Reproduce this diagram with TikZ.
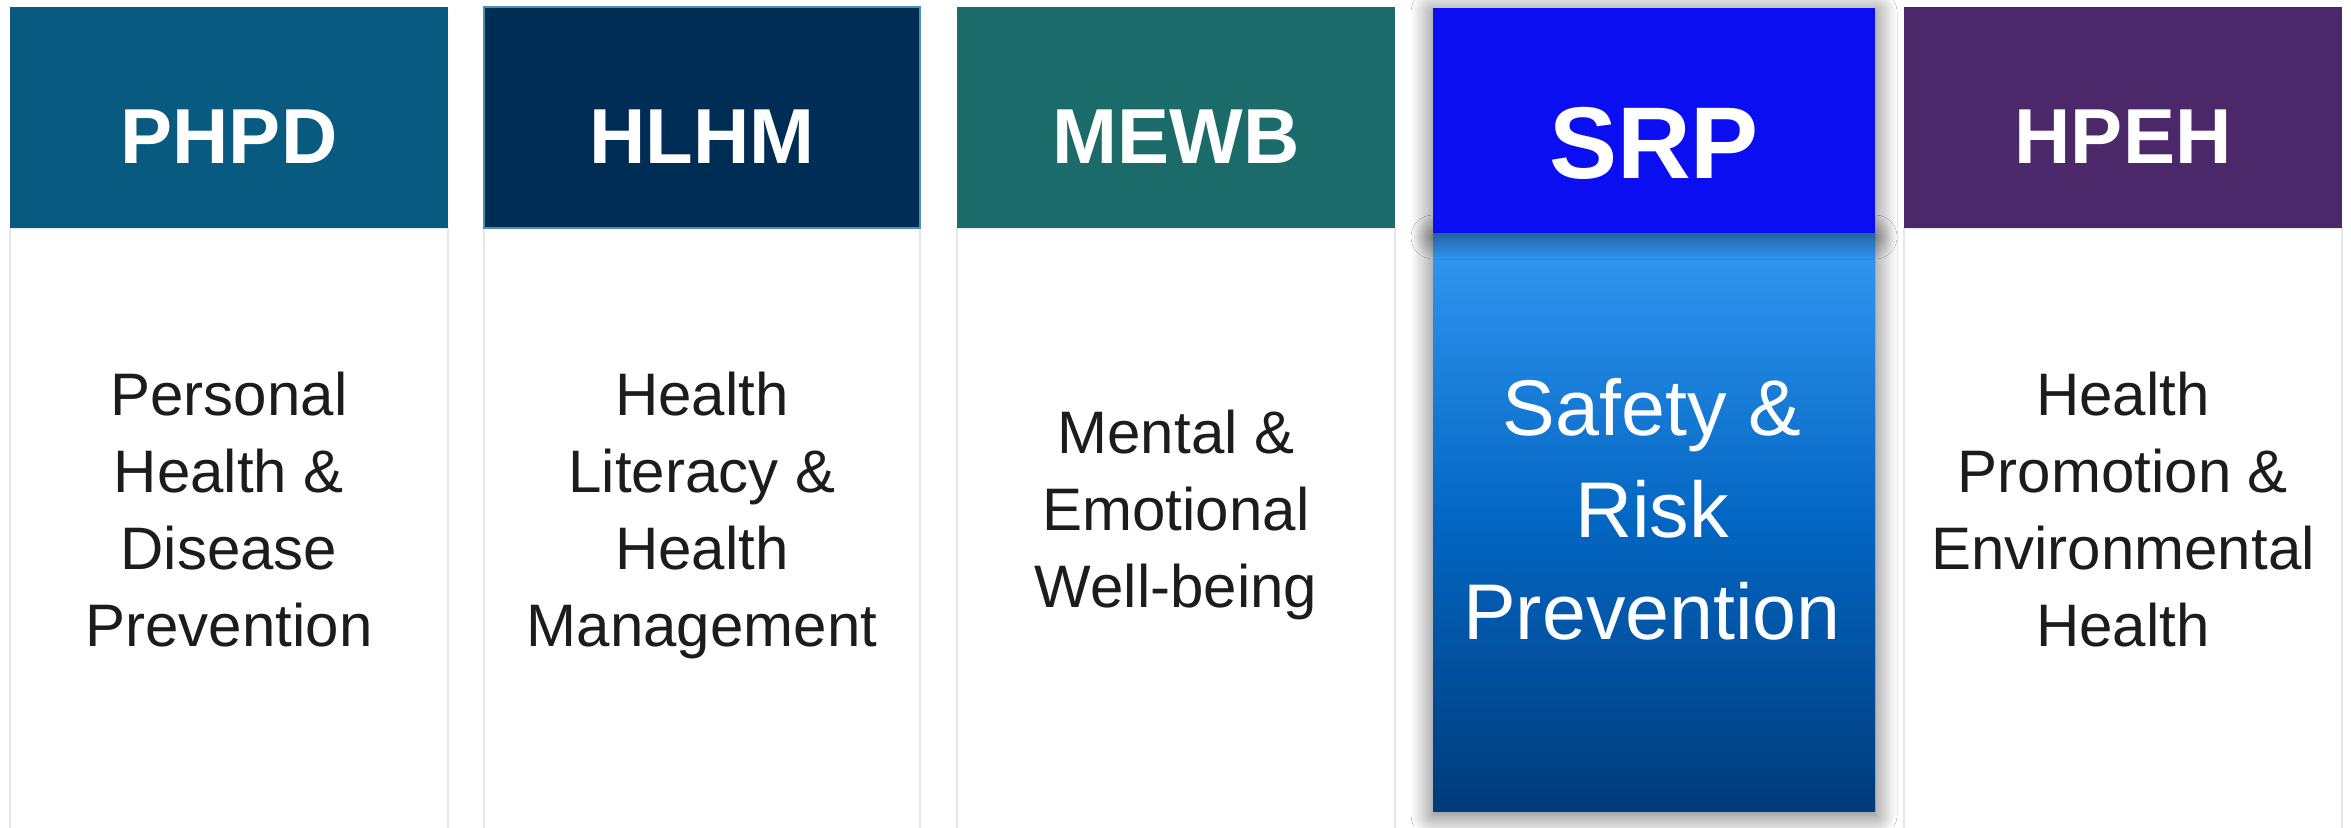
\documentclass[tikz,border=0pt]{standalone}
\usepackage{fontspec}
\setmainfont{Liberation Sans}
\usetikzlibrary{shadows.blur}
\definecolor{cPHPD}{HTML}{085A80}
\definecolor{cHLHM}{HTML}{002D55}
\definecolor{cHLHMedge}{HTML}{4D8FAE}
\definecolor{cMEWB}{HTML}{1B6B6B}
\definecolor{cHPEH}{HTML}{4B2869}
\definecolor{cSRP}{HTML}{0A0EF0}
\definecolor{bordergray}{HTML}{E3E7EE}
\definecolor{bodytext}{HTML}{1C1C1C}
\definecolor{srpTop}{HTML}{3399F3}
\definecolor{srpMid}{HTML}{0366C2}
\definecolor{srpBot}{HTML}{003B7A}
\tikzset{
  hdr/.style={rectangle, inner sep=0pt, outer sep=0pt, minimum width=219pt, minimum height=110.5pt, anchor=north west},
  bodybox/.style={rectangle, inner sep=0pt, outer sep=0pt, draw=bordergray, line width=1.2pt, fill=white, minimum width=219pt, minimum height=336pt, anchor=north west},
  hlab/.style={text=white, inner sep=0pt, font=\bfseries\fontsize{39}{39}\selectfont, anchor=base},
  blab/.style={text=bodytext, inner sep=0pt, align=center, font=\fontsize{30}{38.5}\selectfont, anchor=base},
  srpshadow/.style={blur shadow={shadow xshift=0pt, shadow yshift=-2pt, shadow blur radius=11pt, shadow blur steps=20, shadow opacity=60}}
}
\begin{document}
\begin{tikzpicture}[x=0.5pt,y=-0.5pt]
\useasboundingbox (0,0) rectangle (2351,827);
\fill[white] (0,0) rectangle (2351,827);
\clip (0,0) rectangle (2351,827);

% bodies
\node[bodybox] (b1) at (10,228) {};
\node[bodybox, minimum width=218pt] (b2) at (484,228) {};
\node[bodybox] (b3) at (957,228) {};
\node[bodybox] (b5) at (1904,228) {};

% headers
\node[hdr, fill=cPHPD] (h1) at (10,7) {};
\node[hdr, fill=cHLHM, draw=cHLHMedge, line width=0.6pt, minimum width=218pt] (h2) at (484,7) {};
\node[hdr, fill=cMEWB] (h3) at (957,7) {};
\node[hdr, fill=cHPEH] (h5) at (1904,7) {};

% SRP highlighted column
\node[rectangle, inner sep=0pt, outer sep=0pt, anchor=north west, minimum width=221pt, minimum height=289pt,
      top color=srpTop, bottom color=srpBot, middle color=srpMid, srpshadow] (b4) at (1433,233) {};
\node[hdr, fill=cSRP, minimum width=221pt, minimum height=112.5pt, srpshadow] (h4) at (1433,8) {};

% header labels
\node[hlab] (t1) at (229,163) {PHPD};
\node[hlab] (t2) at (702,163) {HLHM};
\node[hlab] (t3) at (1176,163) {MEWB};
\node[hlab, font=\bfseries\fontsize{51}{51}\selectfont] (t4) at (1654,178) {SRP};
\node[hlab] (t5) at (2123,163) {HPEH};

% body labels (anchor = baseline of the last line)
\node[blab] (l1) at (229,646) {Personal\\Health \&\\Disease\\Prevention};
\node[blab] (l2) at (702,646) {Health\\Literacy \&\\Health\\Management};
\node[blab] (l3) at (1176,607) {Mental \&\\Emotional\\Well-being};
\node[blab, text=white, font=\fontsize{39.5}{51}\selectfont] (l4) at (1652,639) {Safety \&\\Risk\\Prevention};
\node[blab] (l5) at (2123,646) {Health\\Promotion \&\\Environmental\\Health};
\end{tikzpicture}
\end{document}
